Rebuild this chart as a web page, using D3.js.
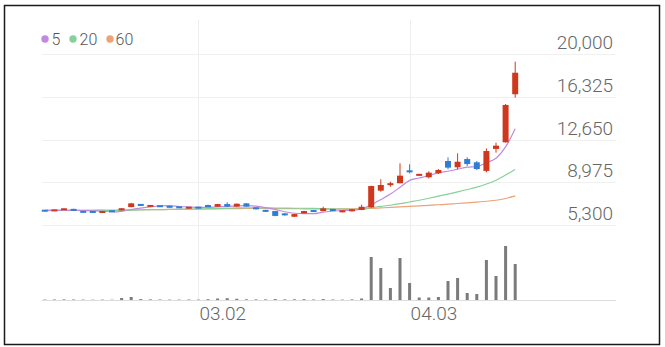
<!DOCTYPE html>
<html>
<head>
<meta charset="utf-8">
<script src="https://cdn.jsdelivr.net/npm/d3@7/dist/d3.min.js"></script>
<style>
  html, body { margin: 0; padding: 0; background: #fff; }
  svg { display: block; font-family: Roboto, "Noto Sans", sans-serif; }
</style>
</head>
<body>
<svg id="chart" width="665" height="347"></svg>
<script>
// Trading days (MM.DD), 2023
const dates = [
  "02.07","02.08","02.09","02.10","02.13","02.14","02.15","02.16","02.17","02.20",
  "02.21","02.22","02.23","02.24","02.27","02.28","03.02","03.03","03.06","03.07",
  "03.08","03.09","03.10","03.13","03.14","03.15","03.16","03.17","03.20","03.21",
  "03.22","03.23","03.24","03.27","03.28","03.29","03.30","03.31","04.03","04.04",
  "04.05","04.06","04.07","04.10","04.11","04.12","04.13","04.14","04.17","04.18"
];
const open = [
  6560,6520,6600,6680,6480,6460,6380,6520,6560,6840,
  7060,6900,6950,6900,6860,6750,6830,6990,6870,7100,
  6880,7160,6820,6590,6500,6300,6010,6300,6560,6500,
  6650,6420,6480,6590,6820,8250,8740,8890,9970,9540,
  9400,9750,10800,10260,10970,10690,9950,11840,12410,16540
];
const high = [
  6580,6600,6720,6700,6500,6470,6470,6540,6760,7200,
  7080,7000,6970,6920,6880,6840,6850,7050,7120,7250,
  7150,7180,6840,6610,6520,6320,6260,6520,6580,6870,
  6670,6550,6670,7050,8680,9230,9020,10600,10520,9690,
  9920,10110,11120,11460,11120,10800,11890,12380,15700,19340
];
const low = [
  6480,6500,6580,6500,6360,6350,6360,6420,6540,6820,
  6960,6880,6860,6810,6760,6730,6740,6850,6860,6870,
  6870,6860,6630,6420,6050,6100,5990,6280,6420,6480,
  6510,6400,6460,6570,6800,8160,8590,8880,9740,9530,
  9310,9690,10090,10090,10370,10030,9830,11520,12380,16240
];
const close = [
  6500,6590,6700,6520,6380,6380,6450,6440,6740,7160,
  6990,6980,6880,6830,6780,6820,6760,6870,7100,6880,
  7130,6880,6650,6440,6080,6130,6240,6500,6440,6730,
  6530,6530,6650,6870,8650,8740,8880,9540,9860,9680,
  9800,10030,10230,10740,10540,10110,11660,12120,15620,18390
];
const volume = [
  40000,50000,60000,50000,40000,30000,40000,30000,200000,300000,
  90000,60000,50000,40000,40000,50000,40000,80000,150000,180000,
  120000,70000,60000,60000,90000,60000,70000,80000,50000,90000,
  50000,40000,60000,150000,4300000,3200000,1200000,4200000,1700000,250000,
  250000,300000,1900000,2200000,700000,600000,4000000,2400000,5400000,3600000
];
// Moving averages (5, 20, 60 days)
const ma5 = [
  6540,6550,6570,6560,6538,6514,6486,6434,6478,6634,
  6756,6862,6950,6968,6892,6858,6814,6812,6866,6886,
  6948,6972,6928,6796,6636,6436,6308,6278,6278,6408,
  6488,6546,6576,6662,7046,7488,7958,8536,9134,9340,
  9552,9782,9920,10096,10268,10330,10656,11034,12010,13580
];
const ma20 = [
  6560,6560,6570,6570,6560,6550,6550,6540,6550,6570,
  6590,6610,6620,6640,6650,6670,6680,6700,6720,6738,
  6769,6784,6781,6777,6762,6750,6739,6742,6727,6706,
  6683,6660,6649,6651,6800,6900,7000,7130,7280,7430,
  7600,7780,7960,8150,8350,8550,8820,9150,9600,10080
];
const ma60 = [
  6560,6560,6570,6570,6570,6570,6580,6580,6590,6600,
  6610,6620,6630,6640,6650,6660,6670,6680,6690,6700,
  6710,6720,6720,6720,6710,6700,6700,6690,6690,6690,
  6690,6690,6690,6700,6730,6770,6810,6860,6900,6950,
  6990,7040,7090,7150,7200,7260,7340,7430,7580,7800
];
const priceTicks = [5300, 8975, 12650, 16325, 20000];
const dateTicks = ["03.02", "04.03"];
const maSeries = [
  { label: "5",  values: ma5,  color: "#c08ae0" },
  { label: "20", values: ma20, color: "#86d19a" },
  { label: "60", values: ma60, color: "#eda277" }
];

const UP = "#d0381e", DOWN = "#2e7ed6";
const svg = d3.select("#chart");
const slots = 60; // chart leaves room on the right for upcoming sessions

const x = d3.scaleBand().domain(d3.range(slots)).range([40, 616]);
const cx = i => x(i) + x.bandwidth() / 2;
const y = d3.scaleLinear().domain([5300, 20000]).range([225, 54]);
const yVol = d3.scaleLinear().domain([0, d3.max(volume)]).range([300, 246]);

// outer frame
svg.append("rect")
  .attr("x", 4.5).attr("y", 5.5).attr("width", 655).attr("height", 339)
  .attr("fill", "none").attr("stroke", "#1a1a1a").attr("stroke-width", 1.5);

// horizontal price grid
svg.append("g").selectAll("line").data(priceTicks).join("line")
  .attr("x1", 42).attr("x2", 616)
  .attr("y1", d => Math.round(y(d)) + 0.5).attr("y2", d => Math.round(y(d)) + 0.5)
  .attr("stroke", "#f0f0f0").attr("stroke-width", 1);

// vertical date grid
svg.append("g").selectAll("line").data(dateTicks).join("line")
  .attr("x1", d => Math.round(cx(dates.indexOf(d))) + 0.5)
  .attr("x2", d => Math.round(cx(dates.indexOf(d))) + 0.5)
  .attr("y1", 20).attr("y2", 300)
  .attr("stroke", "#eeeeee").attr("stroke-width", 1);

// volume baseline
svg.append("line")
  .attr("x1", 42).attr("x2", 616).attr("y1", 300.5).attr("y2", 300.5)
  .attr("stroke", "#dddddd").attr("stroke-width", 1);

// price axis labels
svg.append("g").selectAll("text").data(priceTicks).join("text")
  .attr("x", 613).attr("y", d => y(d) - 5)
  .attr("text-anchor", "end")
  .attr("font-size", 19).attr("font-weight", 300).attr("fill", "#666")
  .text(d => d3.format(",")(d));

// date axis labels
svg.append("g").selectAll("text").data(dateTicks).join("text")
  .attr("x", d => cx(dates.indexOf(d)) + 1)
  .attr("y", 320)
  .attr("font-size", 19).attr("font-weight", 300).attr("fill", "#666")
  .text(d => d);

// volume bars
svg.append("g").selectAll("rect").data(volume).join("rect")
  .attr("x", (d, i) => cx(i) - 1.5)
  .attr("width", 3)
  .attr("y", d => yVol(d))
  .attr("height", d => 300 - yVol(d))
  .attr("fill", "#7b7b7b");

// moving average lines
const line = d3.line().x((d, i) => cx(i)).y(d => y(d)).curve(d3.curveMonotoneX);
svg.append("g").selectAll("path").data(maSeries.slice().reverse()).join("path")
  .attr("d", s => line(s.values))
  .attr("fill", "none")
  .attr("stroke", s => s.color)
  .attr("stroke-width", 1.2);

// candles
const candles = svg.append("g").selectAll("g").data(dates).join("g")
  .attr("fill", (d, i) => close[i] >= open[i] ? UP : DOWN)
  .attr("stroke", (d, i) => close[i] >= open[i] ? UP : DOWN);
candles.append("line")
  .attr("x1", (d, i) => cx(i)).attr("x2", (d, i) => cx(i))
  .attr("y1", (d, i) => y(high[i])).attr("y2", (d, i) => y(low[i]))
  .attr("stroke-width", 1);
candles.append("rect")
  .attr("stroke", "none")
  .attr("x", (d, i) => cx(i) - 3)
  .attr("width", 6)
  .attr("y", (d, i) => {
    const top = y(Math.max(open[i], close[i]));
    const bot = y(Math.min(open[i], close[i]));
    return bot - top < 2 ? (top + bot) / 2 - 1 : top;
  })
  .attr("height", (d, i) => Math.max(2, Math.abs(y(open[i]) - y(close[i]))));

// legend
const legend = svg.append("g").attr("transform", "translate(45,39)");
const legendX = [0, 28, 65];
maSeries.forEach((s, k) => {
  const g = legend.append("g").attr("transform", `translate(${legendX[k]},0)`);
  g.append("circle").attr("r", 3.7).attr("fill", s.color);
  g.append("text").attr("x", k === 2 ? 5.5 : 6.5).attr("y", 5.8)
    .attr("font-size", 16).attr("font-weight", 300).attr("fill", "#555").text(s.label);
});
</script>
</body>
</html>
